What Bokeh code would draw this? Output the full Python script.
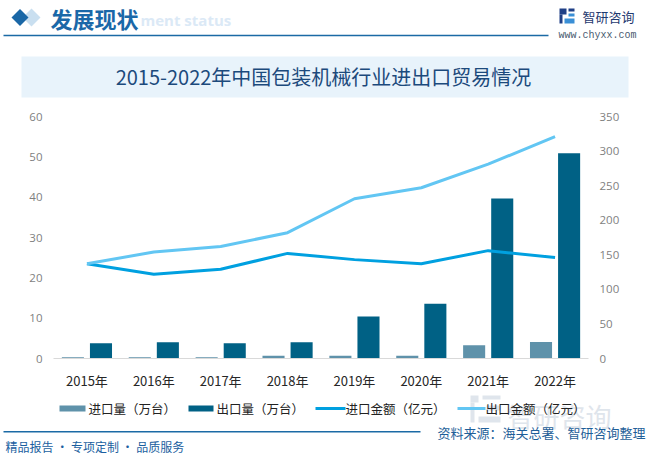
from bokeh.plotting import figure
from bokeh.layouts import column
from bokeh.models import (FactorRange, Range1d, LinearAxis, SingleIntervalTicker, ColumnDataSource)
from bokeh.core.properties import value
from bokeh.transform import dodge
from bokeh.embed import file_html
from bokeh.resources import INLINE

# ---------------- data ----------------
years = ["2015年", "2016年", "2017年", "2018年", "2019年", "2020年", "2021年", "2022年"]
import_qty = [0.3, 0.3, 0.3, 0.7, 0.7, 0.7, 3.3, 4.1]          # 进口量（万台）
export_qty = [3.8, 4.0, 3.8, 4.0, 10.4, 13.6, 39.7, 50.9]      # 出口量（万台）
import_val = [137, 122, 129, 152, 143, 137, 156, 146]          # 进口金额（亿元）
export_val = [137, 154, 162, 182, 231, 247, 281, 321]          # 出口金额（亿元）
series_names = ["进口量（万台）", "出口量（万台）", "进口金额（亿元）", "出口金额（亿元）"]
series_colors = ["#5f92aa", "#006185", "#00a0e0", "#62c6f3"]

CJK = "Noto Sans CJK SC"
W = 653


def deco_fig(y_top, y_bot):
    """Figure whose frame is the whole canvas, in reference-pixel coordinates."""
    f = figure(width=W, height=int(y_bot - y_top), x_range=Range1d(0, W),
               y_range=Range1d(y_bot, y_top), output_backend="svg", toolbar_location=None,
               x_axis_location=None, y_axis_location=None,
               min_border=0, min_border_left=0, min_border_right=0,
               min_border_top=0, min_border_bottom=0, frame_align=False)
    f.outline_line_color = None
    f.xgrid.visible = False
    f.ygrid.visible = False
    f.background_fill_color = "white"
    f.border_fill_color = "white"
    return f


def txt(f, x, y, text, size, color, font=CJK, style="normal", align="left", baseline="middle"):
    f.text(x=[x], y=[y], text=[text], text_font=value(font), text_font_size=value(f"{size}px"),
           text_color=color, text_font_style=style, text_align=align, text_baseline=baseline)


def rect(f, l, r, t, b, color):
    f.quad(left=[l], right=[r], top=[t], bottom=[b], fill_color=color, line_color=None)


# ---------------- top (header + title) ----------------
top = deco_fig(0, 108)
rect(top, 21, 628, 56, 97, "#e8f3fb")                     # title box
rect(top, 3, 548, 34.3, 35.8, "#1b6aa5")                  # header line
top.patch([31, 40, 31, 22], [8, 17, 26, 17], fill_color="#c9dff0", line_color=None)
top.patch([19.5, 28, 19.5, 11], [8.5, 17, 25.5, 17], fill_color="#1a67a6", line_color=None)
txt(top, 140, 19, "ment status", 15, "#dbe9f6", font="Open Sans", style="bold")
txt(top, 50, 17, "发展现状", 22, "#1a68a8", style="bold")
# logo
rect(top, 559, 566, 8, 14, "#1f3f86")
rect(top, 559, 562, 14, 23, "#1f3f86")
rect(top, 568, 574, 8, 11, "#1f3f86")
rect(top, 568, 574, 13, 16, "#3a8fd6")
rect(top, 564, 574, 18, 23, "#3a8fd6")
txt(top, 582, 15.5, "智研咨询", 13, "#1f3a70")
txt(top, 558, 34.5, "www.chyxx.com", 10, "#4a5a70", font="Liberation Mono")
txt(top, 323, 76, "2015-2022年中国包装机械行业进出口贸易情况", 20, "#1c4a7c", align="center")

# ---------------- main chart ----------------
src = ColumnDataSource(dict(year=years, iq=import_qty, eq=export_qty, iv=import_val, ev=export_val))

p = figure(width=W, height=284, x_range=FactorRange(*years), y_range=Range1d(0, 60),
           output_backend="svg", toolbar_location=None, frame_align=False,
           min_border_left=53, min_border_right=65, min_border_top=8, min_border_bottom=34)
p.outline_line_color = None
p.xgrid.visible = False
p.ygrid.visible = False
p.background_fill_color = "white"
p.border_fill_color = "white"
p.extra_y_ranges = {"amt": Range1d(0, 350)}

p.vbar(x=dodge("year", -0.21, range=p.x_range), top="iq", width=0.33, source=src,
       fill_color=series_colors[0], line_color=None)
p.vbar(x=dodge("year", 0.21, range=p.x_range), top="eq", width=0.33, source=src,
       fill_color=series_colors[1], line_color=None)
p.line("year", "iv", y_range_name="amt", source=src, line_color=series_colors[2], line_width=3,
       line_join="round")
p.line("year", "ev", y_range_name="amt", source=src, line_color=series_colors[3], line_width=3,
       line_join="round")

xa = p.xaxis[0]
xa.axis_line_color = "#d9d9d9"
xa.major_tick_line_color = None
xa.minor_tick_line_color = None
xa.major_tick_out = 0
xa.major_tick_in = 0
xa.major_label_standoff = 12
xa.major_label_text_font = CJK
xa.major_label_text_font_size = "13px"
xa.major_label_text_color = "#262626"

ya = p.yaxis[0]
ya.ticker = SingleIntervalTicker(interval=10)
ra = LinearAxis(y_range_name="amt", ticker=SingleIntervalTicker(interval=50))
p.add_layout(ra, "right")
for ax in (ya, ra):
    ax.axis_line_color = None
    ax.major_tick_line_color = None
    ax.minor_tick_line_color = None
    ax.major_tick_out = 0
    ax.major_tick_in = 0
    ax.minor_tick_out = 0
    ax.major_label_standoff = 11
    ax.major_label_text_font = "Open Sans"
    ax.major_label_text_font_size = "11.5px"
    ax.major_label_text_color = "#7f7f7f"

# ---------------- bottom (legend + footer) ----------------
bot = deco_fig(392, 455)
# watermark
txt(bot, 507, 396, "智研咨询", 26, "#dfe5ec", baseline="top")
rect(bot, 470, 478, 395, 402, "#dfe5ec")
rect(bot, 470, 474, 402, 422, "#dfe5ec")
rect(bot, 482, 500, 395, 399, "#dfe5ec")
rect(bot, 486, 500, 405, 410, "#dfe5ec")
rect(bot, 478, 500, 416, 422, "#dfe5ec")
# legend
ly = 408
rect(bot, 59, 85, ly - 3, ly + 3, series_colors[0])
txt(bot, 88, ly, series_names[0], 12.5, "#222222")
rect(bot, 188, 213, ly - 3, ly + 3, series_colors[1])
txt(bot, 216, ly, series_names[1], 12.5, "#222222")
bot.line([315, 345], [ly, ly], line_color=series_colors[2], line_width=3)
txt(bot, 345, ly, series_names[2], 12.5, "#222222")
bot.line([457, 485], [ly, ly], line_color=series_colors[3], line_width=3)
txt(bot, 485, ly, series_names[3], 12.5, "#222222")
# footer
rect(bot, 3, 420, 430.5, 432, "#1b6aa5")
txt(bot, 437, 432, "资料来源：海关总署、智研咨询整理", 13, "#1f5f99")
txt(bot, 5, 446, "精品报告 · 专项定制 · 品质服务", 12, "#1b5fa0")

layout = column(top, p, bot, spacing=0)
open("out.html", "w").write(file_html(layout, INLINE))
